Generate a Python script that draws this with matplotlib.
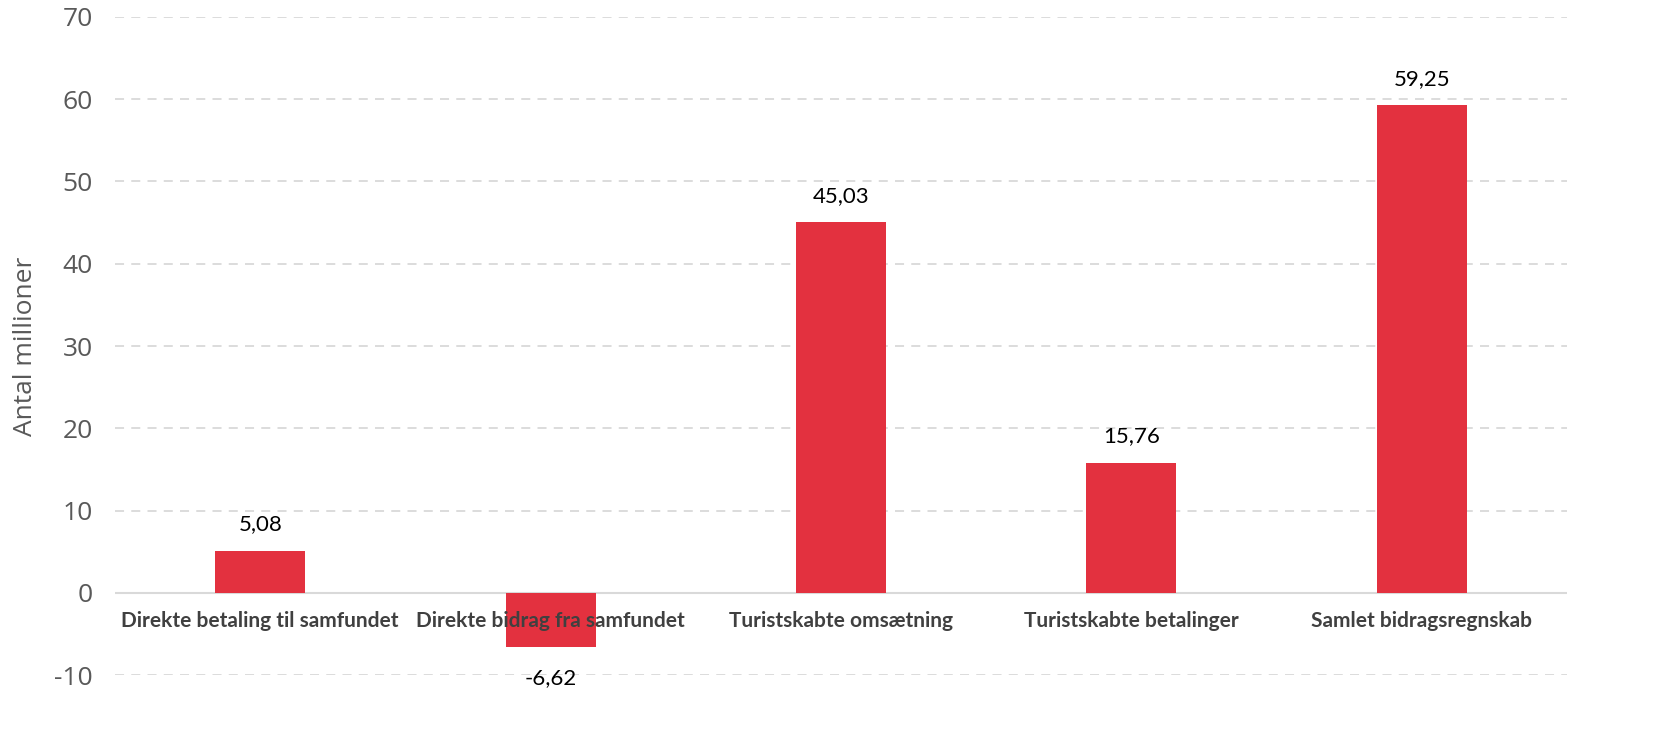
import matplotlib as mpl
mpl.use('Agg')
from matplotlib import pyplot as plt
import numpy as np

categories = ['Direkte betaling til samfundet', 'Direkte bidrag fra samfundet',
              'Turistskabte omsætning', 'Turistskabte betalinger',
              'Samlet bidragsregnskab']
values = [5.08, -6.62, 45.03, 15.76, 59.25]
yticks = [-10, 0, 10, 20, 30, 40, 50, 60, 70]

bar_color = '#e3313f'
tick_color = '#595959'
label_font = 'Lato'

fig = plt.figure(figsize=(16.77, 7.35), dpi=100)
ax = fig.add_axes([0.0686, 0.0816, 0.8658, 0.8953])

x = np.arange(len(categories))
ax.bar(x, values, width=0.31, color=bar_color, zorder=3)

ax.set_xlim(-0.5, len(categories) - 0.5)
ax.set_ylim(-10, 70)
ax.set_yticks(yticks)
ax.set_yticklabels([str(t) for t in yticks], fontsize=19, color=tick_color,
                   family='Open Sans')
ax.tick_params(axis='y', length=0, pad=16)
ax.tick_params(axis='x', length=0)
ax.set_xticks([])

for yt in yticks:
    if yt == 0:
        ax.axhline(0, color='#d9d9d9', lw=1.5, zorder=2)
    else:
        ax.axhline(yt, color='#d9d9d9', lw=1.3, ls=(0, (5, 4)), zorder=1)

# category labels just below the zero line
for xi, cat in zip(x, categories):
    ax.annotate(cat, (xi, 0), xytext=(0, -13), textcoords='offset points',
                ha='center', va='top', fontsize=15, fontweight='bold',
                color='#404040', family=label_font, zorder=4)

# value labels
for xi, v in zip(x, values):
    txt = f'{v:.2f}'.replace('.', ',')
    if v >= 0:
        ax.annotate(txt, (xi, v), xytext=(0, 12), textcoords='offset points',
                    ha='center', va='bottom', fontsize=16, color='black',
                    family=label_font)
    else:
        ax.annotate(txt, (xi, v), xytext=(0, -15), textcoords='offset points',
                    ha='center', va='top', fontsize=16, color='black',
                    family=label_font)

ax.set_ylabel('Antal millioner', fontsize=19, color=tick_color,
              family='Open Sans')
ax.yaxis.set_label_coords(-0.053, 0.5)

for s in ax.spines.values():
    s.set_visible(False)

fig.savefig('out.png', dpi=100)
